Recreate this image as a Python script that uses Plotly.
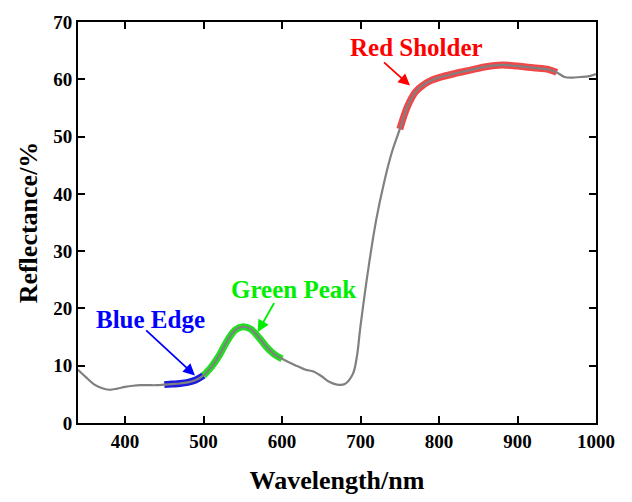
import plotly.graph_objects as go

# Reflectance spectrum of vegetation
wavelength = [340, 350, 360, 370, 380, 390, 400, 410, 420, 430, 440, 450, 460, 470, 480,
              490, 500, 510, 520, 530, 540, 550, 560, 570, 580, 590, 600, 610, 620, 630,
              640, 650, 660, 670, 680, 690, 695, 700, 710, 720, 730, 740, 750, 760, 770,
              780, 790, 800, 820, 840, 860, 880, 900, 920, 940, 950, 960, 970, 980, 990, 1000]
reflectance = [9.3, 8.0, 6.8, 6.1, 5.8, 6.0, 6.3, 6.5, 6.6, 6.6, 6.6, 6.7, 6.8, 6.9, 7.1,
               7.5, 8.3, 9.8, 11.8, 14.3, 16.2, 16.8, 16.4, 15.0, 13.3, 12.0, 11.2, 10.5, 9.9, 9.3,
               9.0, 8.2, 7.2, 6.7, 6.8, 8.5, 11.3, 17.0, 27.0, 35.5, 42.0, 47.3, 51.3, 55.3, 57.8,
               59.0, 59.8, 60.3, 61.0, 61.6, 62.2, 62.5, 62.3, 62.0, 61.7, 61.2, 60.4, 60.3, 60.4, 60.5, 60.9]

# Highlighted spectral regions: (name, start, end, band colour, label colour)
regions = [("Blue Edge", 450, 500, "#1a1ae0", "#0000ff"),
           ("Green Peak", 500, 600, "#22dd22", "#00ee00"),
           ("Red Sholder", 750, 950, "#f04848", "#ff0000")]

# Label text position, arrow tail and arrow tip (data units)
label_pos = {"Blue Edge": (432, 18.0), "Green Peak": (614, 23.3), "Red Sholder": (771, 65.6)}
arrow_tail = {"Blue Edge": (425, 16.4), "Green Peak": (591, 21.2), "Red Sholder": (728, 63.2)}
arrow_tip = {"Blue Edge": (489, 8.3), "Green Peak": (569, 15.9), "Red Sholder": (763, 58.9)}

font_family = "Liberation Serif, Times New Roman, serif"


def span(lo, hi):
    xs, ys = [], []
    for w, r in zip(wavelength, reflectance):
        if lo <= w <= hi:
            xs.append(w)
            ys.append(r)
    return xs, ys


fig = go.Figure()

for name, lo, hi, band, _ in regions:
    xs, ys = span(lo, hi)
    fig.add_trace(go.Scatter(x=xs, y=ys, mode="lines",
                             line=dict(color=band, width=7, shape="spline"),
                             hoverinfo="skip", showlegend=False))

fig.add_trace(go.Scatter(x=wavelength, y=reflectance, mode="lines",
                         line=dict(color="#808080", width=2.2, shape="spline"),
                         showlegend=False))

for name, lo, hi, _, col in regions:
    tx, ty = label_pos[name]
    fig.add_annotation(x=tx, y=ty, text="<b>%s</b>" % name, showarrow=False,
                       font=dict(family=font_family, size=25, color=col),
                       xanchor="center", yanchor="middle")
    x0, y0 = arrow_tail[name]
    x1, y1 = arrow_tip[name]
    fig.add_annotation(x=x1, y=y1, ax=x0, ay=y0, axref="x", ayref="y",
                       xref="x", yref="y", text="", showarrow=True,
                       arrowhead=2, arrowsize=1.3, arrowwidth=1.8, arrowcolor=col)

axis_common = dict(showline=True, linecolor="black", linewidth=2, mirror="allticks",
                   ticks="inside", ticklen=7, tickwidth=2, tickcolor="black",
                   showgrid=False, zeroline=False,
                   tickfont=dict(family=font_family, size=19, color="black", weight="bold"))

fig.update_xaxes(range=[340, 1000], tickvals=[400, 500, 600, 700, 800, 900, 1000],
                 title=dict(text="<b>Wavelength/nm</b>",
                            font=dict(family=font_family, size=26, color="black"),
                            standoff=20),
                 **axis_common)
fig.update_yaxes(range=[0, 70], dtick=10,
                 title=dict(text="<b>Reflectance/%</b>",
                            font=dict(family=font_family, size=26, color="black"),
                            standoff=8),
                 **axis_common)

fig.update_layout(width=632, height=502, margin=dict(l=78, r=36, t=12, b=75),
                  plot_bgcolor="white", paper_bgcolor="white",
                  font=dict(family=font_family, color="black"))

fig.write_html("out.html")
